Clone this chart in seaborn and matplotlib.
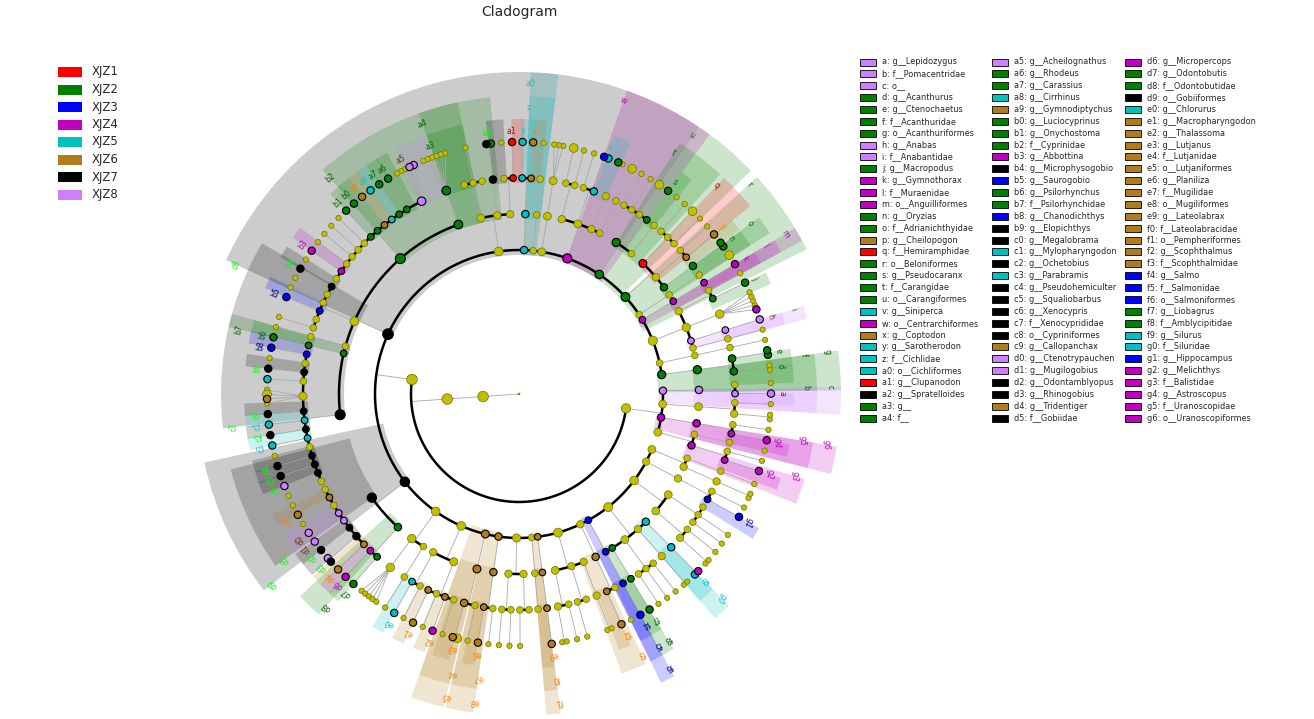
import numpy as np
import pandas as pd
import matplotlib
matplotlib.use("Agg")
import matplotlib.pyplot as plt
from matplotlib.patches import Wedge, Rectangle
import seaborn as sns

sns.set_theme(style="white")
plt.rcParams['font.family'] = ['DejaVu Sans']

# groups and colours
GROUPS = ["XJZ1", "XJZ2", "XJZ3", "XJZ4", "XJZ5", "XJZ6", "XJZ7", "XJZ8"]
NODE_COLORS = ["#ff0000", "#008000", "#0000ff", "#c000c0", "#00c0c0", "#b07d1c", "#000000", "#cc80ff"]
LABEL_COLORS = ["#c00000", "#006400", "#00008b", "#c000c0", "#00c8c8", "#ff8000", "#00ff00", "#6b3000"]


# node = (tag, group, children); genus children are a string of species codes
# '.' small yellow species, 'o' big yellow species, digit = species enriched in XJZn
def G(tag, grp, species):
    return (tag, grp, species)


def F(tag, grp, *kids):
    return (tag, grp, list(kids))


O = F

# class A, orders from the right side going anticlockwise over the top
RIGHT_ORDERS = [
    O('g', 2, F('f', 2, G('d', 2, '..'), G('e', 2, '22'))),
    O('', 0, F('', 0, G('', 0, '.'))),
    O('', 0, F('', 0, G('', 0, '.')), F('i', 8, G('h', 8, '8')), F('', 0, G('', 0, '4....')),
      F('', 0, G('j', 2, '2'), G('', 0, '.'))),
    O('m', 4, F('l', 4, G('k', 4, '4'))),
    O('', 0, F('', 0, G('', 0, 'o'))),
    O('r', 2, F('o', 2, G('n', 2, '22')), F('', 0, G('p', 6, '6'), G('', 0, '.')),
      F('q', 1, G('', 0, '.'), G('', 0, 'o'), G('', 0, '.'))),
    O('u', 2, F('', 0, G('', 0, '.')), F('t', 2, G('s', 2, '2'), G('', 0, 'o'), G('', 0, '.'), G('', 0, '.'))),
    O('w', 4, F('', 0, G('', 0, 'o')), F('', 0, G('', 0, '.2')),
      F('', 0, G('v', 5, '53'), G('', 0, '.')), F('', 0, G('', 0, '.'), G('', 0, 'o'))),
    O('', 0, F('', 0, G('', 0, '...'))),
    O('', 0, F('', 0, G('', 0, '.'))),
    O('a0', 5, F('z', 5, G('x', 6, '6'), G('y', 5, '5'))),
    O('', 0, F('', 0, G('a1', 1, '1'), G('', 0, '.')), F('', 0, G('a2', 7, '27')),
      F('', 0, G('', 0, ''), G('', 0, '.'), G('', 0, ''))),
]

CYPRINIFORMES = O('c8', 7,
    F('a4', 2, G('a3', 2, '......')),
    F('b2', 2, G('a5', 8, '88...'), G('a6', 2, '2'), G('a7', 2, '2'), G('a8', 5, '5'), G('a9', 6, '6'),
      G('b0', 2, '2'), G('b1', 2, '2'), G('', 0, '.'), G('', 0, '.'), G('', 0, '.'), G('', 0, '.'),
      G('b3', 4, '4'), G('', 0, '.')),
    F('', 0, G('b4', 7, '7'), G('', 0, '.'), G('', 0, '.'), G('b5', 3, '3'), G('', 0, ''), G('', 0, '.')),
    F('', 0, G('', 0, '.')),
    F('b7', 2, G('b6', 2, '2')),
    F('c7', 7, G('b8', 3, '3'), G('', 0, '.'), G('b9', 7, '7'), G('', 0, '5'), G('', 0, '.o6.'),
      G('c0', 7, '7'), G('c1', 5, '5'), G('c2', 7, '7'), G('c3', 5, '5'), G('', 0, '.'),
      G('c4', 7, '7'), G('c5', 7, '7'), G('c6', 7, '8'), G('', 0, '.')),
)

GOBIIFORMES = O('d9', 7,
    F('d5', 7, G('', 0, '.'), G('c9', 6, '6'), G('', 0, '.'), G('d0', 8, '8'), G('d1', 8, '8'),
      G('d2', 7, '7'), G('d3', 7, '87'), G('d4', 6, '6')),
    F('d8', 2, G('d6', 4, '4'), G('d7', 2, '2')),
)

BOTTOM_ORDERS = [
    O('', 0, F('', 0, G('', 0, '.....')), F('', 0, G('', 0, '.'))),
    O('', 0, F('', 0, G('e0', 5, '5'), G('', 0, '.')),
      F('', 0, G('e1', 6, '6'), G('', 0, '.'), G('e2', 6, '4'), G('', 0, '.'))),
    O('e5', 6, F('e4', 6, G('e3', 6, '6o'), G('', 0, '.'))),
    O('e8', 6, F('e7', 6, G('e6', 6, '6'), G('', 0, '.'))),
    O('', 0, F('', 0, G('', 0, '.'), G('', 0, '.')), F('', 0, G('', 0, '.'), G('', 0, ''))),
    O('', 0, F('', 0, G('', 0, ''))),
    O('f1', 6, F('f0', 6, G('e9', 6, '6'))),
    O('', 0, F('', 0, G('', 0, '..'), G('', 0, '.')), F('', 0, G('', 0, '.'), G('', 0, '')),
      F('', 0, G('', 0, '..'))),
    O('', 0, F('f3', 6, G('f2', 6, '6'), G('', 0, '.'))),
    O('f6', 3, F('f5', 3, G('f4', 3, '3'))),
    O('', 0, F('f8', 2, G('f7', 2, '2')), F('', 0, G('', 0, '.'), G('', 0, '.'), G('', 0, '.')),
      F('', 0, G('', 0, '..')), F('g0', 5, G('f9', 5, '54'))),
    O('', 0, F('', 0, G('', 0, '..'), G('', 0, '.')), F('', 0, G('', 0, '.'), G('', 0, '.'), G('', 0, ''))),
    O('', 0, F('', 0, G('g1', 3, '3'), G('', 0, '.'))),
    O('', 0, F('', 0, G('', 0, '..')), F('', 0, G('', 0, '.'))),
]

CLASS_B_ORDERS = [
    O('', 0, F('g3', 4, G('g2', 4, '4'), G('', 0, '.')), F('', 0, G('', 0, '.'))),
    O('g6', 4, F('g5', 4, G('g4', 4, '4'), G('', 0, '.'))),
    O('', 0, F('', 0, G('', 0, '..'), G('', 0, '.'))),
    O('c', 8, F('b', 8, G('a', 8, '8'), G('', 0, '.'))),
]

LEGEND_NAMES = [
    "a: g__Lepidozygus", "b: f__Pomacentridae", "c: o__", "d: g__Acanthurus", "e: g__Ctenochaetus",
    "f: f__Acanthuridae", "g: o__Acanthuriformes", "h: g__Anabas", "i: f__Anabantidae", "j: g__Macropodus",
    "k: g__Gymnothorax", "l: f__Muraenidae", "m: o__Anguilliformes", "n: g__Oryzias", "o: f__Adrianichthyidae",
    "p: g__Cheilopogon", "q: f__Hemiramphidae", "r: o__Beloniformes", "s: g__Pseudocaranx", "t: f__Carangidae",
    "u: o__Carangiformes", "v: g__Siniperca", "w: o__Centrarchiformes", "x: g__Coptodon", "y: g__Sarotherodon",
    "z: f__Cichlidae", "a0: o__Cichliformes", "a1: g__Clupanodon", "a2: g__Spratelloides", "a3: g__", "a4: f__",
    "a5: g__Acheilognathus", "a6: g__Rhodeus", "a7: g__Carassius", "a8: g__Cirrhinus", "a9: g__Gymnodiptychus",
    "b0: g__Luciocyprinus", "b1: g__Onychostoma", "b2: f__Cyprinidae", "b3: g__Abbottina", "b4: g__Microphysogobio",
    "b5: g__Saurogobio", "b6: g__Psilorhynchus", "b7: f__Psilorhynchidae", "b8: g__Chanodichthys",
    "b9: g__Elopichthys", "c0: g__Megalobrama", "c1: g__Mylopharyngodon", "c2: g__Ochetobius", "c3: g__Parabramis",
    "c4: g__Pseudohemiculter", "c5: g__Squaliobarbus", "c6: g__Xenocypris", "c7: f__Xenocyprididae",
    "c8: o__Cypriniformes", "c9: g__Callopanchax", "d0: g__Ctenotrypauchen", "d1: g__Mugilogobius",
    "d2: g__Odontamblyopus", "d3: g__Rhinogobius", "d4: g__Tridentiger", "d5: f__Gobiidae",
    "d6: g__Micropercops", "d7: g__Odontobutis", "d8: f__Odontobutidae", "d9: o__Gobiiformes", "e0: g__Chlorurus",
    "e1: g__Macropharyngodon", "e2: g__Thalassoma", "e3: g__Lutjanus", "e4: f__Lutjanidae", "e5: o__Lutjaniformes",
    "e6: g__Planiliza", "e7: f__Mugilidae", "e8: o__Mugiliformes", "e9: g__Lateolabrax", "f0: f__Lateolabracidae",
    "f1: o__Pempheriformes", "f2: g__Scophthalmus", "f3: f__Scophthalmidae", "f4: g__Salmo", "f5: f__Salmonidae",
    "f6: o__Salmoniformes", "f7: g__Liobagrus", "f8: f__Amblycipitidae", "f9: g__Silurus", "g0: f__Siluridae",
    "g1: g__Hippocampus", "g2: g__Melichthys", "g3: f__Balistidae", "g4: g__Astroscopus", "g5: f__Uranoscopidae",
    "g6: o__Uranoscopiformes",
]

# ---- build the tree: root > kingdom > phylum > class > order > family > genus > species
class_a = ('', 0, RIGHT_ORDERS + [CYPRINIFORMES, GOBIIFORMES] + BOTTOM_ORDERS)
class_b = ('', 0, CLASS_B_ORDERS)
tree = ('', 0, [('', 0, [('', 0, [class_a, class_b])])])

nodes = []


def walk(node, depth, parent):
    tag, grp, kids = node
    idx = len(nodes)
    nodes.append(dict(tag=tag, grp=grp, depth=depth, parent=parent, kids=[], big=False))
    if parent is not None:
        nodes[parent]['kids'].append(idx)
    if isinstance(kids, str):
        for ch in kids:
            j = len(nodes)
            nodes.append(dict(tag='', grp=int(ch) if ch.isdigit() else 0, depth=depth + 1,
                              parent=idx, kids=[], big=(ch == 'o')))
            nodes[idx]['kids'].append(j)
    else:
        for k in kids:
            walk(k, depth + 1, idx)


walk(tree, 0, None)


def ancestors(i):
    out = []
    while i is not None:
        out.append(i)
        i = nodes[i]['parent']
    return out[::-1]


leaves = [i for i, n in enumerate(nodes) if not n['kids']]
# spacing: tight inside a genus, wider between genera/families/orders, widest between classes
pos = [0.0]
for a, b in zip(leaves[:-1], leaves[1:]):
    pa, pb = ancestors(a), ancestors(b)
    k = 0
    while k < min(len(pa), len(pb)) and pa[k] == pb[k]:
        k += 1
    lca_depth = k - 1
    step = 1.0 if lca_depth == 6 else (3.0 if lca_depth <= 2 else 2.3)
    pos.append(pos[-1] + step)
pos = np.array(pos)
START, SPAN = 5.5, 357.0
leaf_ang = START + pos / pos[-1] * SPAN
for i, a in zip(leaves, leaf_ang):
    nodes[i]['first'] = nodes[i]['last'] = a
for i in range(len(nodes) - 1, -1, -1):
    n = nodes[i]
    if n['kids']:
        n['first'] = min(nodes[k]['first'] for k in n['kids'])
        n['last'] = max(nodes[k]['last'] for k in n['kids'])
for n in nodes:
    n['ang'] = 0.5 * (n['first'] + n['last'])
    n['nleaf'] = 0
for i in leaves:
    for a in ancestors(i):
        nodes[a]['nleaf'] += 1

CX, CY, STEP_R = 519, 325, 36
R_OUT = {4: 322, 5: 298, 6: 275}
R_LAB = {4: 311, 5: 287, 6: 263}


def xy(r, ang):
    t = np.radians(ang)
    return CX + r * np.cos(t), CY + r * np.sin(t)


fig = plt.figure(figsize=(13.14, 7.19), dpi=100)
ax = fig.add_axes([0, 0, 1, 1])
ax.set_xlim(0, 1314)
ax.set_ylim(0, 719)
ax.axis('off')

# shaded sectors of the biomarker clades
for depth in (4, 5, 6):
    for n in nodes:
        if n['grp'] and n['tag'] and n['depth'] == depth:
            width = (n['last'] - n['first']) + 2.6
            r_in = depth * STEP_R - 5
            ax.add_patch(Wedge((CX, CY), R_OUT[depth], n['ang'] - width, n['ang'],
                               width=R_OUT[depth] - r_in, facecolor=NODE_COLORS[n['grp'] - 1],
                               alpha=0.2, edgecolor='none', zorder=1))

# branches
for i, n in enumerate(nodes):
    kids = n['kids']
    if not kids:
        continue
    r0, rc = n['depth'] * STEP_R, (n['depth'] + 1) * STEP_R
    x0, y0 = xy(r0, n['ang'])
    fan = len(kids) >= 3 and all(not nodes[k]['kids'] for k in kids)
    if len(kids) == 1 or fan:
        for k in kids:
            x1, y1 = xy(rc, nodes[k]['ang'])
            ax.plot([x0, x1], [y0, y1], color='#a8a8a8', lw=0.6, zorder=2)
    else:
        x1, y1 = xy(rc, n['ang'])
        ax.plot([x0, x1], [y0, y1], color='#a8a8a8', lw=0.6, zorder=2)
        angs = [nodes[k]['ang'] for k in kids] + [n['ang']]
        t = np.linspace(min(angs), max(angs), max(2, int((max(angs) - min(angs)) * 3)))
        ax.plot(*xy(rc, t), color='black', lw=1.8, solid_capstyle='round', zorder=3)

# nodes
rows = []
for i, n in enumerate(nodes):
    x, y = xy(n['depth'] * STEP_R, n['ang'])
    if n['depth'] == 0:
        s = 2
    elif not n['kids'] and n['depth'] == 7:
        s = 40 if n['big'] else (28 if n['grp'] else 15)
    else:
        s = min(58, 14 + 9 * np.log2(1 + n['nleaf']))
    rows.append(dict(x=x, y=y, s=round(float(s), 1),
                     grp=GROUPS[n['grp'] - 1] if n['grp'] else 'none'))
df = pd.DataFrame(rows)
plain = df[df.grp == 'none']
marked = df[df.grp != 'none']
sns.scatterplot(data=plain, x='x', y='y', size='s', sizes={v: v for v in plain.s.unique()},
                color='#bfbf00', edgecolor='#6f6f00', linewidth=0.5, legend=False, ax=ax, zorder=4)
sns.scatterplot(data=marked, x='x', y='y', hue='grp', size='s', sizes={v: v for v in marked.s.unique()},
                palette=dict(zip(GROUPS, NODE_COLORS)), edgecolor='black', linewidth=0.8,
                legend=False, ax=ax, zorder=5)

# clade labels
for n in nodes:
    if n['tag'] and n['grp']:
        x, y = xy(R_LAB[n['depth']], n['ang'])
        ax.text(x, y, n['tag'], fontsize=5.6, color=LABEL_COLORS[n['grp'] - 1],
                rotation=n['ang'] - 90, rotation_mode='anchor', ha='center', va='center', zorder=6)

ax.text(519, 707, "Cladogram", ha='center', va='center', fontsize=10)

# group legend (left)
for k, (g, c) in enumerate(zip(GROUPS, NODE_COLORS)):
    yc = 719 - (72 + 17.5 * k)
    ax.add_patch(Rectangle((58, yc - 5), 24, 10, facecolor=c, edgecolor='none'))
    ax.text(92, yc, g, fontsize=8.5, va='center', ha='left')

# biomarker legend (right), three columns
tag_grp = {n['tag']: n['grp'] for n in nodes if n['tag']}
for k, name in enumerate(LEGEND_NAMES):
    col, row = divmod(k, 31)
    x0 = [860, 992, 1125][col]
    yc = 719 - (62 + 11.87 * row)
    grp = tag_grp.get(name.split(':')[0], 0)
    ax.add_patch(Rectangle((x0, yc - 3.5), 16, 7, facecolor=NODE_COLORS[grp - 1],
                           edgecolor='black', linewidth=0.6))
    ax.text(x0 + 22, yc, name, fontsize=5.9, va='center', ha='left')

fig.savefig("out.png", dpi=100)
